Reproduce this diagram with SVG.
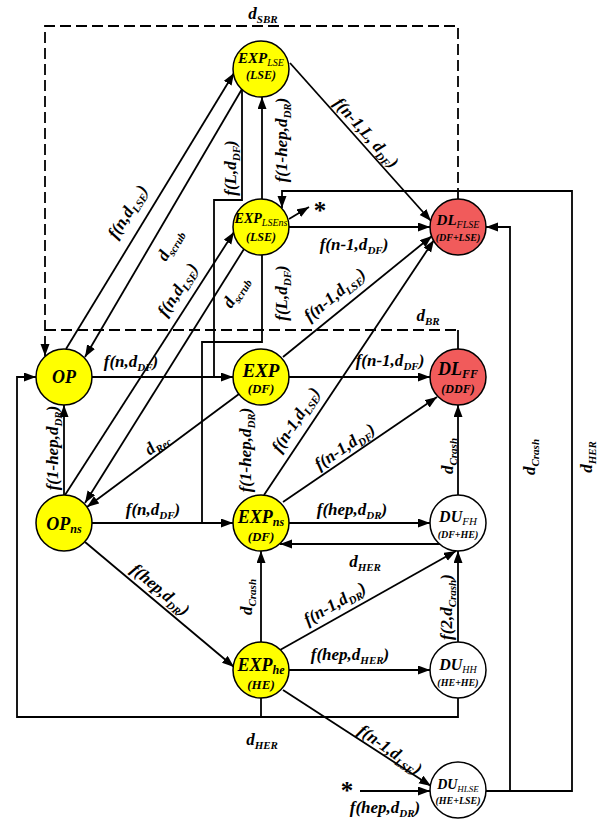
<svg xmlns="http://www.w3.org/2000/svg" width="605" height="819" viewBox="0 0 605 819">
<style>
text{font-family:"Liberation Serif","Times New Roman",serif;font-weight:bold;font-style:italic;fill:#000}
.e{font-size:17px;text-anchor:middle}
.s{font-size:11px}
.st{font-size:25px;font-style:normal;text-anchor:middle}
.n{text-anchor:middle}
.y{fill:#FFFF00;stroke:#000;stroke-width:1.5}
.r{fill:#F15B5B;stroke:#000;stroke-width:1.5}
.w{fill:#FFFFFF;stroke:#000;stroke-width:1.5}
.c path{fill:none;stroke:#000;stroke-width:1.8}
.c path.a{marker-end:url(#ah)}
.c path.d{stroke-dasharray:11 5}
</style>
<defs>
<marker id="ah" markerUnits="userSpaceOnUse" markerWidth="12" markerHeight="10" refX="12" refY="4.5" orient="auto">
<path d="M0,0 L12,4.5 L0,9 z" fill="#000"/>
</marker>
</defs>
<rect width="605" height="819" fill="#fff"/>

<g id="connectors" class="c">
<path class="d" d="M458,199 V26 H45 V356" style="marker-end:url(#ah)"/>
<path class="d" d="M45,330 H458"/>
<path d="M458,330 V349"/>
<path class="a" d="M66,349 L234,73"/>
<path class="a" d="M242,89 L85,357"/>
<path class="a" d="M65,495 L234,232"/>
<path class="a" d="M244,249 L85,503"/>
<path class="a" d="M239,394 L87,507"/>
<path class="a" d="M64,495 V405"/>
<path class="a" d="M92,377 H233"/>
<path class="a" d="M92,523 H233"/>
<path class="a" d="M262,199 V97"/>
<path class="a" d="M290,63 L431,221"/>
<path class="a" d="M289,227 H430"/>
<path class="a" d="M283,357 L432,236"/>
<path class="a" d="M264,495 L434,240"/>
<path class="a" d="M289,377 H430"/>
<path class="a" d="M283,502 L437,397"/>
<path class="a" d="M289,523 H430"/>
<path class="a" d="M440,544 H280"/>
<path class="a" d="M458,495 V405"/>
<path class="a" d="M261,642 V551"/>
<path class="a" d="M85,542 L234,667"/>
<path class="a" d="M280,650 L456,551"/>
<path class="a" d="M458,642 V551"/>
<path class="a" d="M289,670 H430"/>
<path class="a" d="M283,690 L431,786"/>
<path class="a" d="M360,791 H430"/>
<path class="a" d="M486,791 H572 V191 H282 V208"/>
<path class="a" d="M510,791 V227 H486"/>
<path d="M261,698 V717"/>
<path class="a" d="M458,698 V717 H17 V377 H36"/>
<path d="M242,89 V200 H214 V377"/>
<path d="M262,255 V342 H202 V523"/>
<path class="a" d="M289,219 L309,207"/>
</g>

<g id="n-exp-lse">
<circle class="y" cx="261" cy="69" r="28"/>
<text class="n" x="261" y="63" font-size="15">EXP<tspan font-size="10" font-weight="normal" dy="3">LSE</tspan></text>
<text class="n" x="261" y="79" font-size="12">(LSE)</text>
</g>
<g id="n-exp-lsens">
<circle class="y" cx="261" cy="227" r="28"/>
<text class="n" x="261" y="223" font-size="14">EXP<tspan font-size="10" font-weight="normal" dy="3">LSEns</tspan></text>
<text class="n" x="261" y="241" font-size="12">(LSE)</text>
</g>
<g id="n-dl-flse">
<circle class="r" cx="458" cy="227" r="28"/>
<text class="n" x="458" y="225" font-size="15">DL<tspan font-size="10" font-weight="normal" dy="3">FLSE</tspan></text>
<text class="n" x="458" y="241" font-size="10">(DF+LSE)</text>
</g>
<g id="n-op">
<circle class="y" cx="64" cy="377" r="28"/>
<text class="n" x="64" y="383" font-size="18">OP</text>
</g>
<g id="n-exp">
<circle class="y" cx="261" cy="377" r="28"/>
<text class="n" x="261" y="377" font-size="19">EXP</text>
<text class="n" x="261" y="393" font-size="13">(DF)</text>
</g>
<g id="n-dl-ff">
<circle class="r" cx="458" cy="377" r="28"/>
<text class="n" x="458" y="375" font-size="18">DL<tspan font-size="12" dy="3">FF</tspan></text>
<text class="n" x="458" y="393" font-size="12">(DDF)</text>
</g>
<g id="n-op-ns">
<circle class="y" cx="64" cy="523" r="28"/>
<text class="n" x="64" y="530" font-size="18">OP<tspan font-size="12" dy="3">ns</tspan></text>
</g>
<g id="n-exp-ns">
<circle class="y" cx="261" cy="523" r="28"/>
<text class="n" x="261" y="523" font-size="18">EXP<tspan font-size="12" dy="3">ns</tspan></text>
<text class="n" x="261" y="541" font-size="13">(DF)</text>
</g>
<g id="n-du-fh">
<circle class="w" cx="458" cy="523" r="28"/>
<text class="n" x="458" y="522" font-size="16">DU<tspan font-size="11" font-weight="normal" dy="3">FH</tspan></text>
<text class="n" x="458" y="538" font-size="10">(DF+HE)</text>
</g>
<g id="n-exp-he">
<circle class="y" cx="261" cy="670" r="28"/>
<text class="n" x="261" y="671" font-size="18">EXP<tspan font-size="12" dy="3">he</tspan></text>
<text class="n" x="261" y="689" font-size="13">(HE)</text>
</g>
<g id="n-du-hh">
<circle class="w" cx="458" cy="670" r="28"/>
<text class="n" x="458" y="670" font-size="16">DU<tspan font-size="10" font-weight="normal" dy="3">HH</tspan></text>
<text class="n" x="458" y="686" font-size="10">(HE+HE)</text>
</g>
<g id="n-du-hlse">
<circle class="w" cx="458" cy="790" r="28"/>
<text class="n" x="458" y="789" font-size="14">DU<tspan font-size="9" font-weight="normal" dy="3">HLSE</tspan></text>
<text class="n" x="458" y="804" font-size="10">(HE+LSE)</text>
</g>

<g id="labels">
<text class="e" x="263" y="19">d<tspan class="s" dy="4">SBR</tspan></text>
<text class="e" x="428" y="321">d<tspan class="s" dy="4">BR</tspan></text>
<text class="e" x="131" y="367">f(n,d<tspan class="s" dy="4">DF</tspan><tspan dy="-4">)</tspan></text>
<text class="e" x="153" y="515">f(n,d<tspan class="s" dy="4">DF</tspan><tspan dy="-4">)</tspan></text>
<text class="e" x="354" y="250">f(n-1,d<tspan class="s" dy="4">DF</tspan><tspan dy="-4">)</tspan></text>
<text class="e" x="390" y="366">f(n-1,d<tspan class="s" dy="4">DF</tspan><tspan dy="-4">)</tspan></text>
<text class="e" x="352" y="515">f(hep,d<tspan class="s" dy="4">DR</tspan><tspan dy="-4">)</tspan></text>
<text class="e" x="365" y="567">d<tspan class="s" dy="4">HER</tspan></text>
<text class="e" x="350" y="660">f(hep,d<tspan class="s" dy="4">HER</tspan><tspan dy="-4">)</tspan></text>
<text class="e" x="262" y="745">d<tspan class="s" dy="4">HER</tspan></text>
<text class="e" x="385" y="813">f(hep,d<tspan class="s" dy="4">DR</tspan><tspan dy="-4">)</tspan></text>
<text class="st" x="347" y="799">*</text>
<text class="st" x="320" y="219">*</text>

<text class="e" transform="translate(128,212) rotate(-58)" y="5">f(n,d<tspan class="s" dy="4">LSE</tspan><tspan dy="-4">)</tspan></text>
<text class="e" transform="translate(170,245) rotate(-60)" y="5">d<tspan class="s" dy="4">scrub</tspan></text>
<text class="e" transform="translate(178,290) rotate(-57)" y="5">f(n,d<tspan class="s" dy="4">LSE</tspan><tspan dy="-4">)</tspan></text>
<text class="e" transform="translate(236,292) rotate(-58)" y="5">d<tspan class="s" dy="4">scrub</tspan></text>
<text class="e" transform="translate(231,168) rotate(-90)" y="5">f(L,d<tspan class="s" dy="4">DF</tspan><tspan dy="-4">)</tspan></text>
<text class="e" transform="translate(282,140) rotate(-90)" y="5">f(1-hep,d<tspan class="s" dy="4">DR</tspan><tspan dy="-4">)</tspan></text>
<text class="e" transform="translate(366,133) rotate(48)" y="5">f(n-1,L, d<tspan class="s" dy="4">DF</tspan><tspan dy="-4">)</tspan></text>
<text class="e" transform="translate(282,293) rotate(-90)" y="5">f(L,d<tspan class="s" dy="4">DF</tspan><tspan dy="-4">)</tspan></text>
<text class="e" transform="translate(335,295) rotate(-39)" y="5">f(n-1,d<tspan class="s" dy="4">LSE</tspan><tspan dy="-4">)</tspan></text>
<text class="e" transform="translate(296,420) rotate(-57)" y="5">f(n-1,d<tspan class="s" dy="4">LSE</tspan><tspan dy="-4">)</tspan></text>
<text class="e" transform="translate(53,448) rotate(-90)" y="5">f(1-hep,d<tspan class="s" dy="4">DR</tspan><tspan dy="-4">)</tspan></text>
<text class="e" transform="translate(157,444) rotate(-37)" y="5">d<tspan class="s" dy="4">Rec</tspan></text>
<text class="e" transform="translate(246,450) rotate(-90)" y="5">f(1-hep,d<tspan class="s" dy="4">DR</tspan><tspan dy="-4">)</tspan></text>
<text class="e" transform="translate(345,447) rotate(-34)" y="5">f(n-1,d<tspan class="s" dy="4">DF</tspan><tspan dy="-4">)</tspan></text>
<text class="e" transform="translate(448,456) rotate(-90)" y="5">d<tspan class="s" dy="4">Crash</tspan></text>
<text class="e" transform="translate(247,597) rotate(-90)" y="5">d<tspan class="s" dy="4">Crash</tspan></text>
<text class="e" transform="translate(160,590) rotate(40)" y="5">f(hep,d<tspan class="s" dy="4">DR</tspan><tspan dy="-4">)</tspan></text>
<text class="e" transform="translate(335,604) rotate(-30)" y="5">f(n-1,d<tspan class="s" dy="4">DR</tspan><tspan dy="-4">)</tspan></text>
<text class="e" transform="translate(447,607) rotate(-90)" y="5">f(2,d<tspan class="s" dy="4">Crash</tspan><tspan dy="-4">)</tspan></text>
<text class="e" transform="translate(390,750) rotate(35)" y="5">f(n-1,d<tspan class="s" dy="4">LSE</tspan><tspan dy="-4">)</tspan></text>
<text class="e" transform="translate(530,457) rotate(-90)" y="5">d<tspan class="s" dy="4">Crash</tspan></text>
<text class="e" transform="translate(587,457) rotate(-90)" y="5">d<tspan class="s" dy="4">HER</tspan></text>
</g>
</svg>
